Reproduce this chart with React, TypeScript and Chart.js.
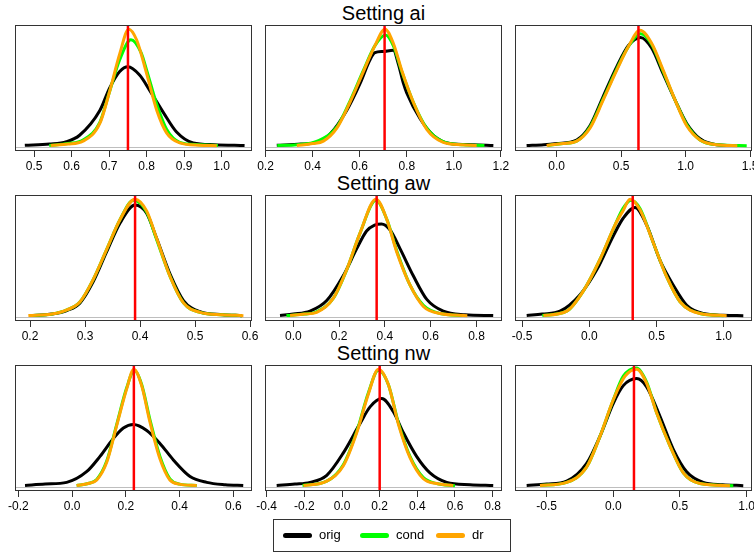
import React, { useEffect, useRef } from "react";
import { Chart, registerables } from "chart.js";

Chart.register(...registerables);

type Pt = [number, number];

// ---------- text ----------
const settingTitles = ["Setting ai", "Setting aw", "Setting nw"];
const seriesNames = ["orig", "cond", "dr"];
const seriesColors = ["#000000", "#00FF00", "#FFA500"];
const truthColor = "#FF0000";

// ---------- true values (red lines) ----------
const trueValues = [0.75, 0.706, 0.634, 0.391, 0.364, 0.323, 0.23, 0.2, 0.155];

// ---------- x axis limits and tick labels ----------
const xMins = [0.4488, 0.198, -0.323, 0.1727, -0.1236, -0.553, -0.2123, -0.409, -0.7375];
const xMaxs = [1.0808, 1.2047, 1.514, 0.6036, 0.9114, 1.2106, 0.6696, 0.8496, 1.0405];
const ticks1 = [0.5, 0.6, 0.7, 0.8, 0.9, 1.0];
const ticks2 = [0.2, 0.4, 0.6, 0.8, 1.0, 1.2];
const ticks3 = [0.0, 0.5, 1.0, 1.5];
const ticks4 = [0.2, 0.3, 0.4, 0.5, 0.6];
const ticks5 = [0.0, 0.2, 0.4, 0.6, 0.8];
const ticks6 = [-0.5, 0.0, 0.5, 1.0];
const ticks7 = [-0.2, 0.0, 0.2, 0.4, 0.6];
const ticks8 = [-0.4, -0.2, 0.0, 0.2, 0.4, 0.6, 0.8];
const ticks9 = [-0.5, 0.0, 0.5, 1.0];

// ---------- densities (relative height) ----------
// Setting ai
const ai1_orig: Pt[] = [[0.475,0.015],[0.541,0.025],[0.586,0.045],[0.621,0.10],[0.675,0.31],[0.701,0.50],[0.728,0.64],[0.75,0.68],[0.781,0.61],[0.808,0.48],[0.845,0.29],[0.879,0.13],[0.924,0.035],[0.98,0.02],[1.061,0.013]];
const ai1_cond: Pt[] = [[0.54,0.013],[0.59,0.03],[0.63,0.06],[0.675,0.21],[0.70,0.46],[0.728,0.74],[0.758,0.91],[0.785,0.80],[0.80,0.65],[0.827,0.36],[0.853,0.15],[0.888,0.04],[0.94,0.02],[0.99,0.013]];
const ai1_dr: Pt[] = [[0.544,0.013],[0.59,0.025],[0.63,0.05],[0.675,0.20],[0.701,0.47],[0.728,0.79],[0.752,1.0],[0.773,0.91],[0.80,0.62],[0.827,0.31],[0.853,0.12],[0.888,0.035],[0.94,0.015],[0.987,0.012]];

const ai2_orig: Pt[] = [[0.248,0.015],[0.35,0.025],[0.418,0.04],[0.474,0.11],[0.545,0.31],[0.602,0.54],[0.644,0.74],[0.665,0.80],[0.70,0.81],[0.743,0.82],[0.765,0.70],[0.786,0.54],[0.80,0.46],[0.857,0.24],[0.913,0.10],[0.984,0.03],[1.08,0.02],[1.168,0.013]];
const ai2_cond: Pt[] = [[0.25,0.013],[0.333,0.02],[0.42,0.05],[0.503,0.17],[0.559,0.39],[0.616,0.65],[0.665,0.86],[0.71,0.95],[0.743,0.86],[0.779,0.64],[0.828,0.38],[0.885,0.16],[0.955,0.045],[1.04,0.02],[1.13,0.013]];
const ai2_dr: Pt[] = [[0.333,0.013],[0.40,0.03],[0.446,0.05],[0.503,0.16],[0.559,0.38],[0.616,0.64],[0.665,0.86],[0.708,1.0],[0.743,0.88],[0.779,0.65],[0.828,0.38],[0.885,0.15],[0.955,0.04],[1.03,0.02],[1.097,0.013]];

const ai3_orig: Pt[] = [[-0.233,0.013],[-0.1,0.02],[0.0,0.03],[0.155,0.06],[0.258,0.18],[0.361,0.43],[0.465,0.68],[0.555,0.86],[0.65,0.93],[0.736,0.84],[0.826,0.62],[0.917,0.40],[1.008,0.20],[1.111,0.07],[1.24,0.02],[1.40,0.013]];
const ai3_cond: Pt[] = [[-0.07,0.013],[0.05,0.03],[0.155,0.05],[0.258,0.17],[0.361,0.41],[0.465,0.66],[0.555,0.85],[0.65,0.96],[0.736,0.87],[0.826,0.64],[0.917,0.40],[1.008,0.19],[1.111,0.06],[1.24,0.02],[1.473,0.012]];
const ai3_dr: Pt[] = [[-0.078,0.013],[0.05,0.03],[0.155,0.05],[0.258,0.16],[0.361,0.40],[0.465,0.65],[0.555,0.85],[0.646,0.99],[0.736,0.88],[0.826,0.65],[0.917,0.40],[1.008,0.18],[1.111,0.06],[1.24,0.02],[1.40,0.012]];

// Setting aw
const aw1_orig: Pt[] = [[0.20,0.013],[0.24,0.025],[0.267,0.055],[0.291,0.12],[0.315,0.30],[0.339,0.55],[0.364,0.80],[0.391,0.95],[0.412,0.88],[0.430,0.67],[0.455,0.36],[0.479,0.14],[0.509,0.045],[0.55,0.02],[0.585,0.012]];
const aw1_cond: Pt[] = [[0.20,0.013],[0.24,0.025],[0.267,0.06],[0.291,0.13],[0.315,0.32],[0.339,0.57],[0.364,0.83],[0.388,0.99],[0.412,0.89],[0.430,0.66],[0.455,0.34],[0.479,0.12],[0.509,0.04],[0.55,0.02],[0.585,0.012]];
const aw1_dr: Pt[] = [[0.197,0.013],[0.24,0.025],[0.267,0.06],[0.291,0.13],[0.315,0.32],[0.339,0.57],[0.364,0.83],[0.391,1.0],[0.412,0.90],[0.430,0.67],[0.455,0.34],[0.479,0.12],[0.509,0.04],[0.55,0.02],[0.588,0.012]];

const aw2_orig: Pt[] = [[-0.058,0.013],[0.0,0.025],[0.073,0.05],[0.146,0.14],[0.218,0.35],[0.277,0.58],[0.32,0.73],[0.355,0.78],[0.385,0.79],[0.422,0.74],[0.466,0.58],[0.524,0.35],[0.583,0.15],[0.655,0.05],[0.75,0.02],[0.873,0.013]];
const aw2_cond: Pt[] = [[-0.03,0.013],[0.05,0.025],[0.102,0.045],[0.175,0.16],[0.233,0.40],[0.291,0.71],[0.361,0.99],[0.408,0.83],[0.452,0.56],[0.51,0.27],[0.568,0.10],[0.641,0.03],[0.74,0.013]];
const aw2_dr: Pt[] = [[-0.014,0.013],[0.05,0.025],[0.102,0.04],[0.175,0.16],[0.233,0.40],[0.291,0.71],[0.361,1.0],[0.408,0.83],[0.452,0.55],[0.51,0.27],[0.568,0.09],[0.641,0.03],[0.76,0.012]];

const aw3_orig: Pt[] = [[-0.466,0.013],[-0.35,0.025],[-0.218,0.05],[-0.069,0.19],[0.055,0.40],[0.179,0.69],[0.253,0.84],[0.34,0.93],[0.427,0.78],[0.526,0.48],[0.625,0.27],[0.725,0.10],[0.848,0.03],[1.0,0.015],[1.146,0.012]];
const aw3_cond: Pt[] = [[-0.35,0.013],[-0.168,0.05],[-0.045,0.22],[0.08,0.49],[0.191,0.78],[0.25,0.92],[0.31,0.99],[0.377,0.92],[0.476,0.63],[0.576,0.34],[0.675,0.13],[0.824,0.03],[1.0,0.012]];
const aw3_dr: Pt[] = [[-0.342,0.013],[-0.168,0.05],[-0.045,0.22],[0.08,0.49],[0.191,0.78],[0.25,0.90],[0.303,1.0],[0.377,0.91],[0.476,0.63],[0.576,0.34],[0.675,0.13],[0.824,0.03],[1.022,0.012]];

// Setting nw
const nw1_orig: Pt[] = [[-0.175,0.013],[-0.1,0.025],[-0.02,0.04],[0.054,0.13],[0.104,0.26],[0.153,0.41],[0.191,0.50],[0.228,0.53],[0.278,0.48],[0.327,0.37],[0.377,0.23],[0.439,0.09],[0.501,0.04],[0.57,0.02],[0.637,0.013]];
const nw1_cond: Pt[] = [[0.017,0.013],[0.06,0.03],[0.092,0.065],[0.129,0.22],[0.166,0.53],[0.203,0.84],[0.232,0.99],[0.259,0.87],[0.29,0.57],[0.327,0.26],[0.364,0.07],[0.40,0.025],[0.464,0.013]];
const nw1_dr: Pt[] = [[0.017,0.013],[0.06,0.03],[0.092,0.06],[0.129,0.21],[0.166,0.52],[0.203,0.83],[0.23,1.0],[0.259,0.86],[0.29,0.55],[0.327,0.24],[0.364,0.06],[0.40,0.025],[0.464,0.013]];

const nw2_orig: Pt[] = [[-0.347,0.013],[-0.25,0.025],[-0.17,0.04],[-0.081,0.10],[0.007,0.29],[0.096,0.54],[0.149,0.68],[0.211,0.75],[0.272,0.64],[0.326,0.46],[0.396,0.26],[0.467,0.12],[0.556,0.04],[0.68,0.02],[0.803,0.013]];
const nw2_cond: Pt[] = [[-0.21,0.013],[-0.081,0.05],[0.007,0.19],[0.078,0.47],[0.14,0.80],[0.193,0.99],[0.246,0.87],[0.30,0.54],[0.361,0.26],[0.432,0.08],[0.503,0.03],[0.60,0.012]];
const nw2_dr: Pt[] = [[-0.205,0.013],[-0.081,0.05],[0.007,0.18],[0.078,0.46],[0.14,0.79],[0.193,1.0],[0.246,0.87],[0.30,0.53],[0.361,0.25],[0.432,0.07],[0.503,0.03],[0.591,0.012]];

const nw3_orig: Pt[] = [[-0.65,0.013],[-0.5,0.025],[-0.35,0.05],[-0.2,0.20],[-0.1,0.43],[0.0,0.71],[0.075,0.86],[0.175,0.92],[0.25,0.85],[0.35,0.60],[0.45,0.32],[0.55,0.13],[0.675,0.04],[0.82,0.02],[0.975,0.012]];
const nw3_cond: Pt[] = [[-0.55,0.013],[-0.35,0.04],[-0.2,0.17],[-0.1,0.43],[0.0,0.74],[0.075,0.94],[0.175,1.01],[0.25,0.89],[0.325,0.63],[0.425,0.35],[0.525,0.12],[0.65,0.03],[0.9,0.012]];
const nw3_dr: Pt[] = [[-0.55,0.013],[-0.35,0.04],[-0.2,0.17],[-0.1,0.43],[0.0,0.74],[0.088,0.94],[0.175,1.0],[0.25,0.88],[0.325,0.63],[0.425,0.35],[0.525,0.12],[0.65,0.03],[0.875,0.012]];

const Y_MIN = -0.025;
const Y_MAX = 1.035;

const panelSeries: Pt[][][] = [
  [ai1_orig, ai1_cond, ai1_dr],
  [ai2_orig, ai2_cond, ai2_dr],
  [ai3_orig, ai3_cond, ai3_dr],
  [aw1_orig, aw1_cond, aw1_dr],
  [aw2_orig, aw2_cond, aw2_dr],
  [aw3_orig, aw3_cond, aw3_dr],
  [nw1_orig, nw1_cond, nw1_dr],
  [nw2_orig, nw2_cond, nw2_dr],
  [nw3_orig, nw3_cond, nw3_dr],
];
const panelTicks = [ticks1, ticks2, ticks3, ticks4, ticks5, ticks6, ticks7, ticks8, ticks9];

// ---------- layout ----------
const FONT = "'Liberation Sans', Arial, Helvetica, sans-serif";
const COL_LEFT = [15, 265, 515];
const ROW_TOP = [25, 195, 365];
const BOX_W = 237;
const BOX_H = 125;
const PAD_L = 20;
const PAD_R = 20;
const PAD_T = 5;
const AXIS_H = 25;

const framePlugin = {
  id: "frame",
  beforeDatasetsDraw(chart: any) {
    const { ctx, chartArea: a, scales } = chart;
    const y0 = Math.round(scales.y.getPixelForValue(0)) + 0.5;
    ctx.save();
    ctx.strokeStyle = "#BEBEBE";
    ctx.lineWidth = 1;
    ctx.beginPath();
    ctx.moveTo(a.left, y0);
    ctx.lineTo(a.right, y0);
    ctx.stroke();
    ctx.restore();
  },
  afterDatasetsDraw(chart: any) {
    const { ctx, chartArea: a } = chart;
    ctx.save();
    ctx.strokeStyle = "#333333";
    ctx.lineWidth = 1;
    ctx.strokeRect(Math.round(a.left) + 0.5, Math.round(a.top) + 0.5, Math.round(a.right - a.left) - 1, Math.round(a.bottom - a.top));
    ctx.restore();
  },
};

function Panel({ idx }: { idx: number }) {
  const ref = useRef<HTMLCanvasElement>(null);
  const row = Math.floor(idx / 3);
  const col = idx % 3;
  const w = BOX_W + PAD_L + PAD_R;
  const h = PAD_T + BOX_H + AXIS_H;
  useEffect(() => {
    const series = panelSeries[idx];
    const tv = trueValues[idx];
    const tks = panelTicks[idx];
    const curve = (s: number, order: number) => ({
      label: seriesNames[s],
      data: series[s].map(([x, y]) => ({ x, y })),
      borderColor: seriesColors[s],
      backgroundColor: seriesColors[s],
      borderWidth: 3,
      pointRadius: 0,
      fill: false,
      cubicInterpolationMode: "monotone" as const,
      order,
    });
    const chart = new Chart(ref.current as HTMLCanvasElement, {
      type: "line",
      data: {
        datasets: [
          {
            label: "true",
            data: [{ x: tv, y: Y_MIN }, { x: tv, y: Y_MAX }],
            borderColor: truthColor,
            backgroundColor: truthColor,
            borderWidth: 2.5,
            pointRadius: 0,
            tension: 0,
            order: 0,
          },
          curve(2, 1),
          curve(1, 2),
          curve(0, 3),
        ] as any,
      },
      options: {
        animation: false,
        responsive: false,
        events: [],
        layout: { padding: { left: PAD_L, right: PAD_R, top: PAD_T, bottom: 0 } },
        plugins: { legend: { display: false }, tooltip: { enabled: false } },
        scales: {
          x: {
            type: "linear",
            min: xMins[idx],
            max: xMaxs[idx],
            afterBuildTicks: (s: any) => {
              s.ticks = tks.map((v) => ({ value: v }));
            },
            afterFit: (s: any) => {
              s.height = AXIS_H;
            },
            grid: { display: true, drawOnChartArea: false, drawTicks: true, tickLength: 7, color: "#333333", lineWidth: 1 },
            border: { display: false },
            ticks: {
              font: { family: FONT, size: 12 },
              color: "#000000",
              padding: 2,
              maxRotation: 0,
              autoSkip: false,
              callback: (v: any) => Number(v).toFixed(1),
            },
          },
          y: { type: "linear", display: false, min: Y_MIN, max: Y_MAX },
        },
      } as any,
      plugins: [framePlugin],
    });
    return () => chart.destroy();
  }, [idx]);
  return (
    <canvas
      ref={ref}
      width={w}
      height={h}
      style={{
        position: "absolute",
        left: COL_LEFT[col] - PAD_L,
        top: ROW_TOP[row] - PAD_T,
        width: w,
        height: h,
        display: "block",
      }}
    />
  );
}

export default function App() {
  const legendItems = [
    { line: 283, text: 319 },
    { line: 360, text: 396 },
    { line: 436, text: 472 },
  ];
  return (
    <div
      style={{
        position: "absolute",
        left: 0,
        top: 0,
        width: 754,
        height: 552,
        overflow: "hidden",
        background: "#ffffff",
        fontFamily: FONT,
      }}
    >
      {settingTitles.map((t, r) => (
        <div
          key={t}
          style={{
            position: "absolute",
            left: COL_LEFT[1],
            width: BOX_W,
            top: ROW_TOP[r] - 22.5,
            textAlign: "center",
            fontSize: 20,
            lineHeight: "20px",
            color: "#000",
            whiteSpace: "nowrap",
          }}
        >
          {t}
        </div>
      ))}
      {Array.from({ length: 9 }, (_, i) => (
        <Panel key={i} idx={i} />
      ))}
      <div
        style={{
          position: "absolute",
          left: 273,
          top: 519,
          width: 236,
          height: 31,
          border: "1px solid #333",
          boxSizing: "content-box",
        }}
      />
      {seriesNames.map((n, i) => (
        <React.Fragment key={n}>
          <div
            style={{
              position: "absolute",
              left: legendItems[i].line,
              top: 533,
              width: 29,
              height: 5,
              borderRadius: 3,
              background: seriesColors[i],
            }}
          />
          <div
            style={{
              position: "absolute",
              left: legendItems[i].text,
              top: 527,
              fontSize: 13,
              lineHeight: "16px",
              color: "#000",
              whiteSpace: "nowrap",
            }}
          >
            {n}
          </div>
        </React.Fragment>
      ))}
    </div>
  );
}
